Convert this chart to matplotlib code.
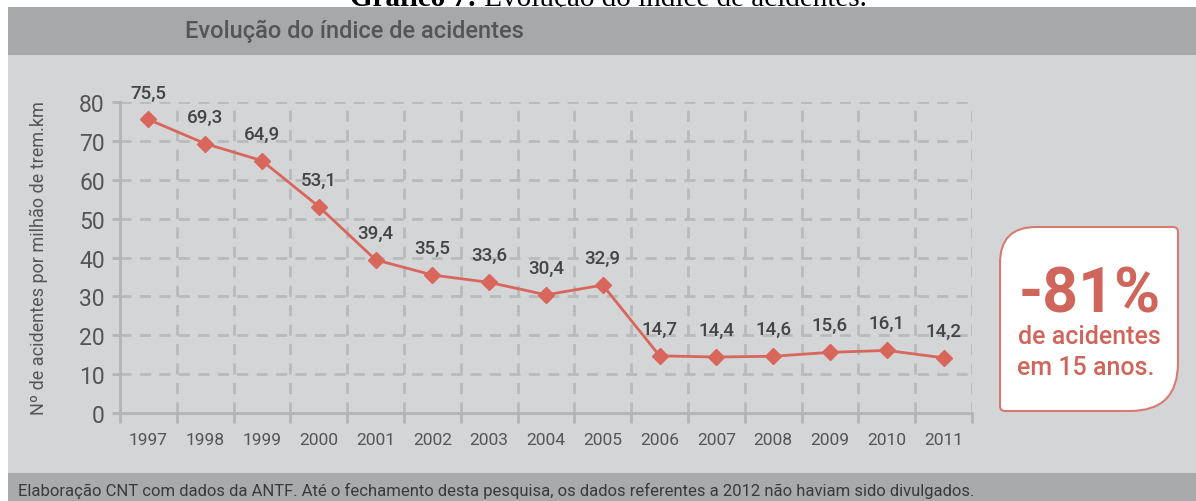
import matplotlib
matplotlib.use("Agg")
import matplotlib.pyplot as plt
from matplotlib.patches import Rectangle, PathPatch
from matplotlib.path import Path

# data
years = [1997, 1998, 1999, 2000, 2001, 2002, 2003, 2004, 2005, 2006, 2007, 2008, 2009, 2010, 2011]
values = [75.5, 69.3, 64.9, 53.1, 39.4, 35.5, 33.6, 30.4, 32.9, 14.7, 14.4, 14.6, 15.6, 16.1, 14.2]
labels = ["75,5", "69,3", "64,9", "53,1", "39,4", "35,5", "33,6", "30,4", "32,9",
          "14,7", "14,4", "14,6", "15,6", "16,1", "14,2"]
yticks = [0, 10, 20, 30, 40, 50, 60, 70, 80]

W, H = 1196, 502
plt.rcParams['font.family'] = ['Roboto', 'DejaVu Sans']

fig = plt.figure(figsize=(W / 100, H / 100), dpi=100)
fig.patch.set_facecolor("white")

# background layer in pixel coords
bg = fig.add_axes([0, 0, 1, 1])
bg.set_xlim(0, W)
bg.set_ylim(H, 0)
bg.axis("off")

# cut-off caption at the very top (drawn under the header band)
bg.text(477, 6, "Gráfico 7:", fontsize=21, family="Liberation Serif", fontweight="bold",
        ha="right", va="baseline", color="black", zorder=0)
bg.text(477, 6, " Evolução do índice de acidentes.", fontsize=21, family="Liberation Serif",
        ha="left", va="baseline", color="black", zorder=0)

bg.add_patch(Rectangle((8, 8), W - 8, 48, color="#a7a8aa", lw=0, zorder=1))
bg.add_patch(Rectangle((8, 56), W - 8, 418, color="#d4d5d7", lw=0, zorder=1))
bg.add_patch(Rectangle((8, 474), W - 8, 28, color="#a9aaac", lw=0, zorder=1))

bg.text(185, 31, "Evolução do índice de acidentes", fontsize=17, color="#555555",
        fontweight="medium", va="center", ha="left", zorder=2)
bg.text(18, 491, "Elaboração CNT com dados da ANTF. Até o fechamento desta pesquisa, "
        "os dados referentes a 2012 não haviam sido divulgados.",
        fontsize=12, color="#3a3a3a", va="center", ha="left", zorder=2)

# leaf-shaped box
x0, x1, y0, y1 = 1000, 1178, 228, 412
r1, r2, rs = 36, 48, 5
verts = [
    (x0 + r1, y0), (x1 - rs, y0), (x1, y0), (x1, y0 + rs),
    (x1, y1 - r2), (x1, y1), (x1 - r2, y1),
    (x0 + rs, y1), (x0, y1), (x0, y1 - rs),
    (x0, y0 + r1), (x0, y0), (x0 + r1, y0), (x0 + r1, y0),
]
codes = [Path.MOVETO, Path.LINETO, Path.CURVE3, Path.CURVE3,
         Path.LINETO, Path.CURVE3, Path.CURVE3,
         Path.LINETO, Path.CURVE3, Path.CURVE3,
         Path.LINETO, Path.CURVE3, Path.CURVE3, Path.CLOSEPOLY]
bg.add_patch(PathPatch(Path(verts, codes), facecolor="white", edgecolor="#d77b70", lw=1.5, zorder=2))
red = "#d0665b"
bg.text(1090, 296, "-81%", fontsize=45, fontweight="bold", color=red, ha="center", va="center", zorder=3)
bg.text(1089, 337, "de acidentes", fontsize=18, fontweight="medium", color=red, ha="center", va="center", zorder=3)
bg.text(1086, 368, "em 15 anos.", fontsize=18, fontweight="medium", color=red, ha="center", va="center", zorder=3)

# main chart
ax = fig.add_axes([120 / W, (H - 414) / H, 852 / W, 311 / H])
ax.set_facecolor("none")
ax.set_xlim(1996.5, 2011.5)
ax.set_ylim(0, 80)

grid_c = "#b9babc"
for y in yticks[1:]:
    ax.axhline(y, color=grid_c, lw=2, ls=(0, (4, 3)), zorder=1)
xs = [y + 0.5 for y in years]
for x in xs:
    ax.axvline(x, color=grid_c, lw=2, ls=(0, (4, 3)), zorder=1)

for s in ["top", "right"]:
    ax.spines[s].set_visible(False)
for s in ["left", "bottom"]:
    ax.spines[s].set_color("#b3b4b6")
    ax.spines[s].set_linewidth(2)

ax.set_yticks(yticks)
ax.set_yticklabels([str(v) for v in yticks])
ax.tick_params(axis="y", length=6, width=2, color="#b3b4b6", labelsize=16.5,
               labelcolor="#555555", pad=5)
ax.set_xticks([1996.5] + xs)
ax.set_xticklabels([""] * (len(xs) + 1))
ax.tick_params(axis="x", length=7, width=2, color="#b3b4b6")
for yr in years:
    ax.text(yr, -6.7, str(yr), ha="center", va="center", fontsize=12.5, color="#555555")

ax.plot(years, values, color="#d8665b", lw=2, marker="D", ms=8, zorder=3)
for yr, v, lab in zip(years, values, labels):
    ax.annotate(lab, (yr, v), xytext=(0, 13), textcoords="offset points",
                ha="center", va="bottom", fontsize=13.5, fontweight="medium", color="#444444")

ax.set_ylabel("Nº de acidentes por milhão de trem.km", fontsize=13, color="#555555")
ax.yaxis.set_label_coords(-72 / 852, 0.5)

fig.savefig("out.png", dpi=100)
